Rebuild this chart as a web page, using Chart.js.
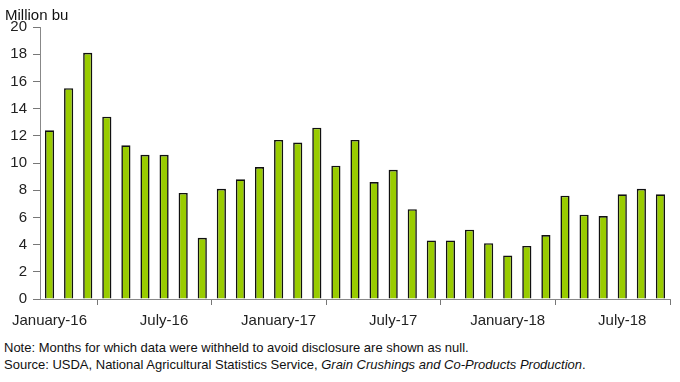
<!DOCTYPE html>
<html>
<head>
<meta charset="utf-8">
<script src="https://cdn.jsdelivr.net/npm/chart.js@4/dist/chart.umd.min.js"></script>
<style>
  html, body { margin: 0; padding: 0; background: #fff; }
  body { width: 680px; height: 382px; position: relative; overflow: hidden; font-family: "Liberation Sans", Arial, sans-serif; color: #111; }
  #unit { position: absolute; left: 5px; top: 6px; font-size: 15px; }
  #wrap { position: absolute; left: 0; top: 0; width: 680px; height: 333px; }
  #notes { position: absolute; left: 4px; top: 339px; font-size: 13px; line-height: 17px; }
</style>
</head>
<body>
<div id="wrap"><canvas id="c"></canvas></div>
<div id="unit">Million bu</div>
<div id="notes">Note: Months for which data were withheld to avoid disclosure are shown as null.<br>Source: USDA, National Agricultural Statistics Service, <i>Grain Crushings and Co-Products Production</i>.</div>
<script>
const months = ["Jan-16","Feb-16","Mar-16","Apr-16","May-16","Jun-16","Jul-16","Aug-16","Sep-16","Oct-16","Nov-16","Dec-16",
  "Jan-17","Feb-17","Mar-17","Apr-17","May-17","Jun-17","Jul-17","Aug-17","Sep-17","Oct-17","Nov-17","Dec-17",
  "Jan-18","Feb-18","Mar-18","Apr-18","May-18","Jun-18","Jul-18","Aug-18","Sep-18"];
const values = [12.4,15.5,18.1,13.4,11.3,10.6,10.6,7.8,4.5,8.1,8.8,9.7,
  11.7,11.5,12.6,9.8,11.7,8.6,9.5,6.6,4.3,4.3,5.1,4.1,
  3.2,3.9,4.7,7.6,6.2,6.1,7.7,8.1,7.7];
const tickLabels = ["January-16","July-16","January-17","July-17","January-18","July-18"];
const yTicks = [0,2,4,6,8,10,12,14,16,18,20];

new Chart(document.getElementById('c'), {
  type: 'bar',
  data: {
    datasets: [{
      data: values.map((v, i) => ({ x: i + 0.5, y: v, m: months[i] })),
      backgroundColor: '#99cc00',
      borderColor: '#111',
      borderWidth: 1.6,
      barPercentage: 0.48,
      categoryPercentage: 1
    }]
  },
  options: {
    responsive: true,
    maintainAspectRatio: false,
    animation: false,
    layout: { padding: { top: 27, right: 10, left: 0, bottom: 0 } },
    plugins: { legend: { display: false }, tooltip: { enabled: false } },
    scales: {
      x: {
        type: 'linear',
        min: 0,
        max: months.length,
        offset: false,
        afterFit: s => { s.height = 34; s.paddingLeft = 0; s.paddingRight = 0; },
        grid: { drawOnChartArea: false, tickLength: 6, color: '#777', tickWidth: 1 },
        border: { color: '#888', width: 1 },
        ticks: {
          stepSize: 6,
          includeBounds: false,
          autoSkip: false,
          maxRotation: 0,
          padding: 7,
          labelOffset: 9.5,
          color: '#222',
          font: { family: '"Liberation Sans", Arial, sans-serif', size: 15 },
          callback: v => (v % 6 === 0 && tickLabels[v / 6]) ? tickLabels[v / 6] : ''
        }
      },
      y: {
        min: 0,
        max: 20,
        afterFit: s => { s.width = 40; s.paddingTop = 0; s.paddingBottom = 0; },
        afterBuildTicks: s => { s.ticks = yTicks.map(v => ({ value: v })); },
        grid: { drawOnChartArea: false, tickLength: 7, color: '#777' },
        border: { color: '#888', width: 1 },
        ticks: {
          padding: 6,
          color: '#222',
          font: { family: '"Liberation Sans", Arial, sans-serif', size: 15 }
        }
      }
    }
  }
});
</script>
</body>
</html>
